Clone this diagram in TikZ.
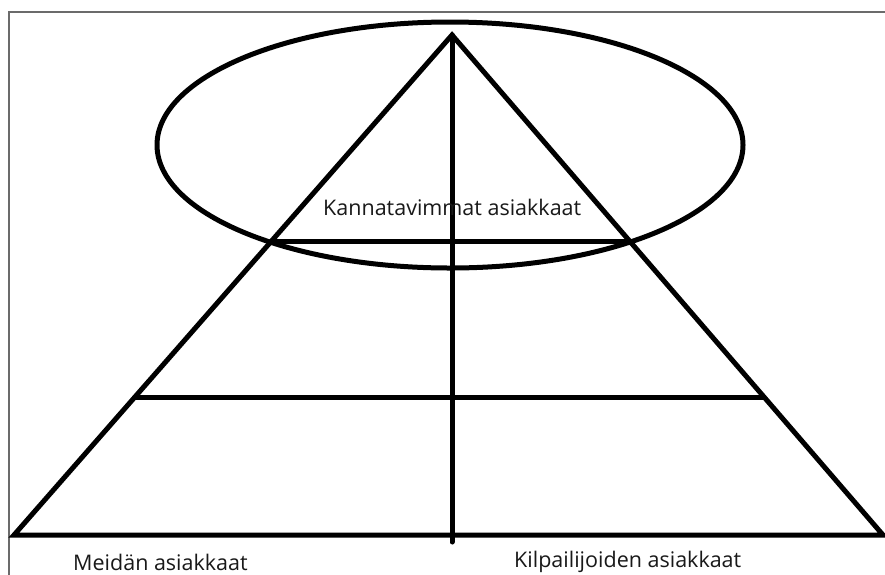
\documentclass[tikz,border=0pt]{standalone}
\usepackage{fontspec}
\setmainfont{Open Sans}
\usetikzlibrary{calc}
\tikzset{
  stroke/.style={line width=5pt, black, line cap=round, line join=miter},
  frame/.style={line width=1.3pt, color=black!58},
  label/.style={inner sep=0pt, anchor=base west, font=\fontsize{21.5pt}{24pt}\selectfont, text=black!90}
}
\begin{document}
\begin{tikzpicture}[x=1pt,y=-1pt]
\useasboundingbox (0,0) rectangle (885,574);
\fill[white] (0,0) rectangle (885,574);
% frame
\draw[frame] (9,580) -- (9,12) -- (890,12);
% key points
\coordinate (apex) at (452,35);
\coordinate (bl) at (14,535);
\coordinate (br) at (883,535);
\coordinate (vbot) at (452,542);
\coordinate (l1) at ($(apex)!0.4134!(bl)$);
\coordinate (r1) at ($(apex)!0.4134!(br)$);
\coordinate (l2) at ($(apex)!0.724!(bl)$);
\coordinate (r2) at ($(apex)!0.724!(br)$);
% ellipse
\draw[stroke] (450,145) ellipse [x radius=293, y radius=123];
% triangle
\draw[stroke] (bl) -- (apex) -- (br) -- cycle;
\draw[stroke] (apex) -- (vbot);
\draw[stroke] (l1) -- (r1);
\draw[stroke] (l2) -- (r2);
% labels
\node[label] (top) at (323,215.7) {Kannatavimmat asiakkaat};
\node[label] (ours) at (73,570.5) {Meidän asiakkaat};
\node[label] (theirs) at (514,567) {Kilpailijoiden asiakkaat};
\end{tikzpicture}
\end{document}
